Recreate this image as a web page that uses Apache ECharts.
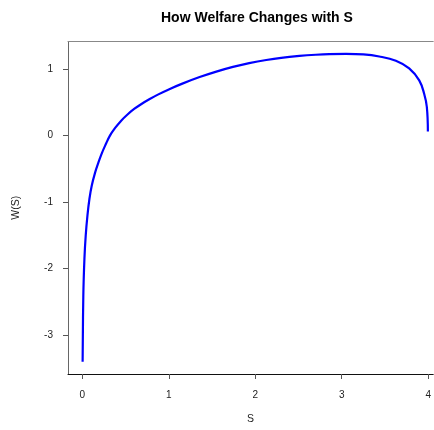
<!DOCTYPE html>
<html>
<head>
<meta charset="utf-8">
<script src="https://cdn.jsdelivr.net/npm/echarts@6/dist/echarts.min.js"></script>
<style>
  html, body { margin: 0; padding: 0; background: #fff; }
  #chart { width: 434px; height: 430px; }
</style>
</head>
<body>
<div id="chart"></div>
<script>
// values
var sVals = [0.004, 0.012, 0.025, 0.04, 0.06, 0.083, 0.11, 0.15, 0.18, 0.22, 0.27, 0.32, 0.38, 0.45, 0.52, 0.60, 0.68, 0.78, 0.88, 1.0, 1.15, 1.357, 1.55, 1.742, 1.93, 2.127, 2.3, 2.511, 2.7, 2.857, 3.05, 3.25, 3.434, 3.626, 3.78, 3.896, 3.953, 3.984, 3.996];
var wVals = [-3.40, -2.42, -1.85, -1.50, -1.20, -0.95, -0.75, -0.55, -0.43, -0.285, -0.135, 0.0, 0.115, 0.225, 0.314, 0.40, 0.472, 0.55, 0.62, 0.695, 0.778, 0.88, 0.962, 1.033, 1.089, 1.137, 1.17, 1.198, 1.216, 1.226, 1.23, 1.222, 1.19, 1.125, 1.01, 0.83, 0.63, 0.43, 0.06];
var xTicks = [0, 1, 2, 3, 4];
var yTicks = [-3, -2, -1, 0, 1];

var font = 'Liberation Sans, Arial, Helvetica, sans-serif';
var myChart = echarts.init(document.getElementById('chart'));

var data = [];
for (var i = 0; i < sVals.length; i++) {
    data.push([sVals[i], wVals[i]]);
}

var option = {
    backgroundColor: '#fff',
    animation: false,
    title: {
        text: 'How Welfare Changes with S',
        left: 156,
        top: 6,
        textStyle: { fontFamily: font, fontSize: 14, fontWeight: 'bold', color: '#000' }
    },
    grid: {
        left: 68,
        top: 41.5,
        right: 0,
        bottom: 56,
        show: false
    },
    xAxis: [{
        type: 'value',
        min: -0.165,
        max: 4.058,
        name: 'S',
        nameLocation: 'middle',
        nameGap: 40,
        nameTextStyle: { fontFamily: font, fontSize: 10.5, color: '#222' },
        axisLine: { show: true, onZero: false, lineStyle: { color: '#111', width: 1 } },
        axisTick: { show: true, customValues: xTicks, length: 5, lineStyle: { color: '#555' } },
        axisLabel: { customValues: xTicks, fontFamily: font, fontSize: 10, color: '#222', margin: 16 },
        splitLine: { show: false }
    }, {
        // top edge of the box only
        type: 'value',
        position: 'top',
        min: -0.165,
        max: 4.058,
        axisLine: { show: true, onZero: false, lineStyle: { color: '#888', width: 1 } },
        axisTick: { show: false },
        axisLabel: { show: false },
        splitLine: { show: false }
    }],
    yAxis: {
        type: 'value',
        min: -3.585,
        max: 1.415,
        name: 'W(S)',
        nameLocation: 'middle',
        nameGap: 46,
        nameRotate: 90,
        nameTextStyle: { fontFamily: font, fontSize: 10.5, color: '#222' },
        axisLine: { show: true, onZero: false, lineStyle: { color: '#666', width: 1 } },
        axisTick: { show: true, customValues: yTicks, length: 5, lineStyle: { color: '#555' } },
        axisLabel: { customValues: yTicks, fontFamily: font, fontSize: 10, color: '#222', margin: 15 },
        splitLine: { show: false }
    },
    series: [{
        type: 'line',
        data: data,
        showSymbol: false,
        smooth: 0.4,
        lineStyle: { color: '#0000ff', width: 2.2 }
    }]
};
myChart.setOption(option);
</script>
</body>
</html>
